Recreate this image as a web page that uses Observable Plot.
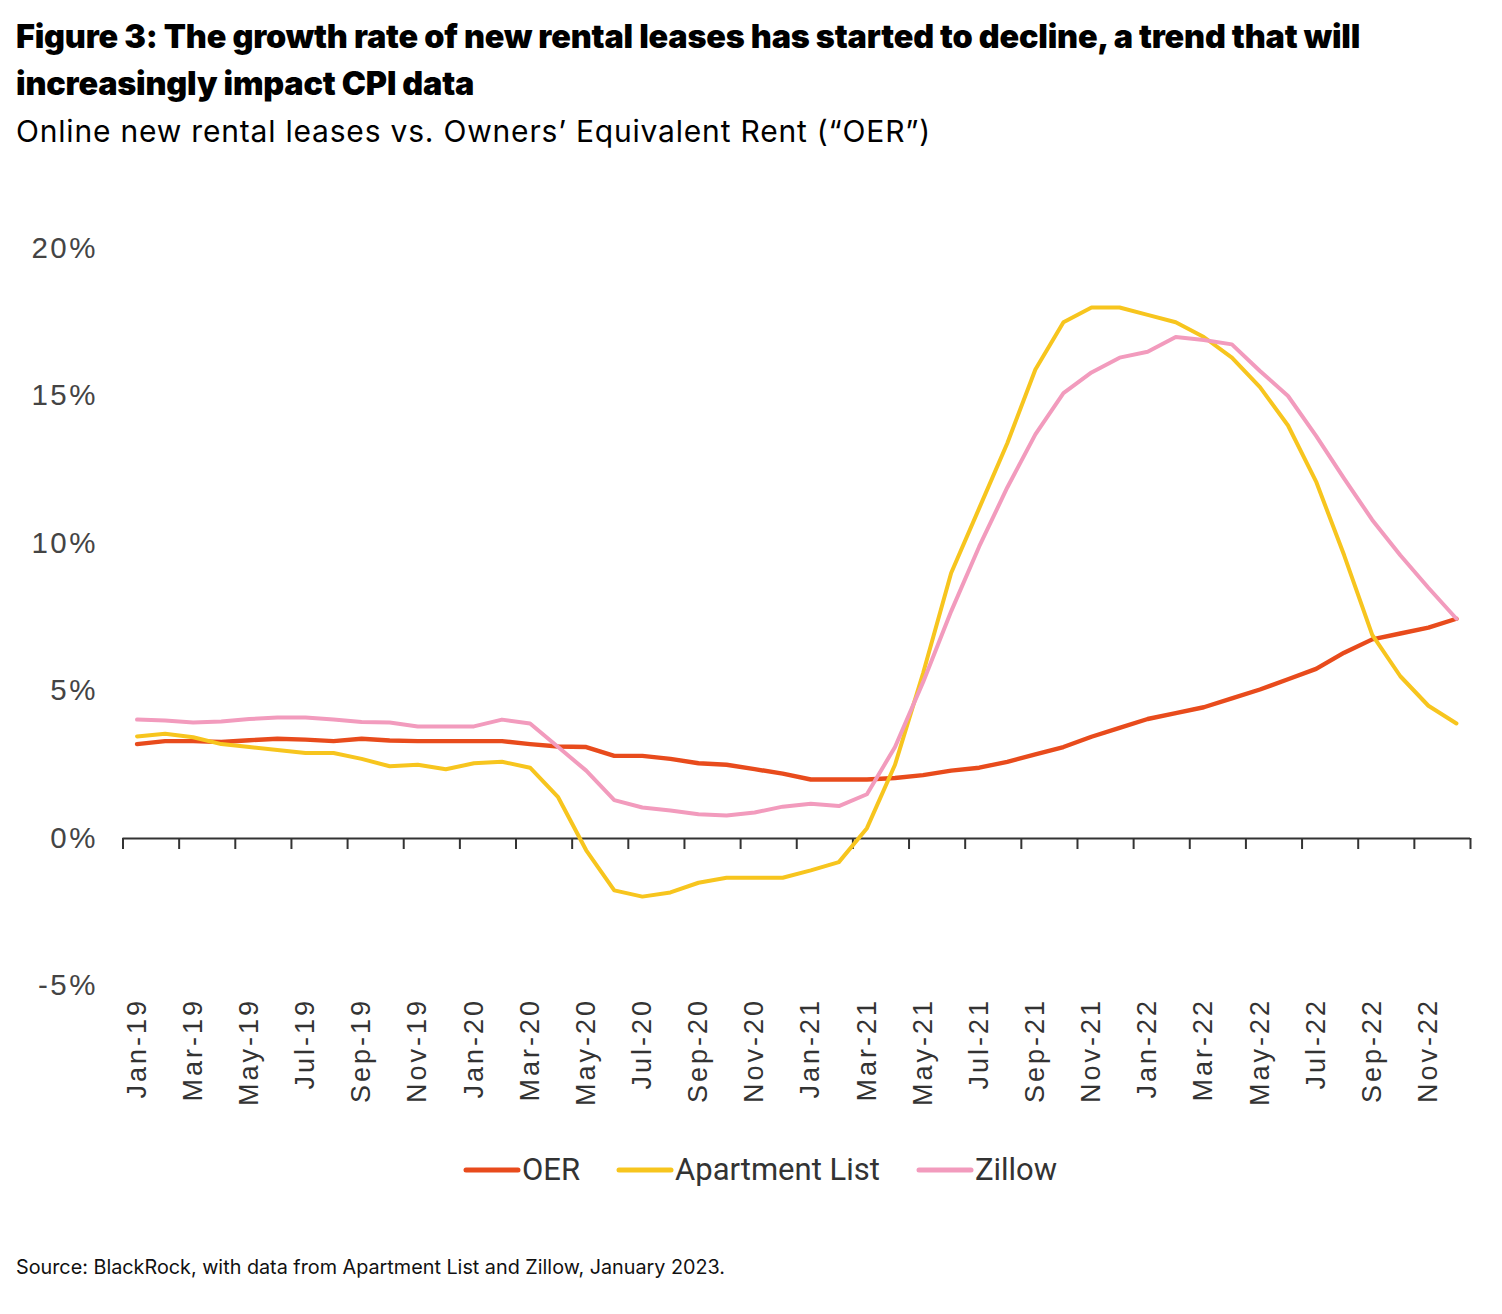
<!DOCTYPE html>
<html>
<head>
<meta charset="utf-8">
<script src="https://cdn.jsdelivr.net/npm/d3@7"></script>
<script src="https://cdn.jsdelivr.net/npm/@observablehq/plot@0.6"></script>
<style>
  html, body { margin: 0; padding: 0; background: #fff; }
  #page { position: relative; width: 1502px; height: 1314px; overflow: hidden; }
  #title { position: absolute; left: 16px; top: 13px; font-family: Inter, "Noto Sans", sans-serif; font-weight: 900; font-size: 32.4px; line-height: 47px; color: #000; letter-spacing: -0.2px; white-space: nowrap; }
  #subtitle { position: absolute; left: 16px; top: 113px; font-family: Inter, "Noto Sans", sans-serif; font-weight: 400; font-size: 30px; letter-spacing: 0.8px; color: #000; white-space: nowrap; }
  #chart { position: absolute; left: 0; top: 170px; }
  .rentchart g[aria-label="x-axis tick label"] text { letter-spacing: 3px; }
  .rentchart g[aria-label="y-axis tick label"] text { letter-spacing: 2.5px; }
  #legend { position: absolute; left: 9px; width: 1502px; top: 1151px; display: flex; justify-content: center; font-family: Roboto, "Noto Sans", sans-serif; font-size: 31px; color: #333; }
  .item { display: flex; align-items: center; margin: 0 18px; }
  .item svg { margin-right: 1px; }
  #source { position: absolute; left: 16px; top: 1255px; font-family: Inter, "Noto Sans", sans-serif; font-size: 19.8px; color: #111; white-space: nowrap; }
</style>
</head>
<body>
<div id="page">
  <div id="title">Figure 3: The growth rate of new rental leases has started to decline, a trend that will<br>increasingly impact CPI data</div>
  <div id="subtitle">Online new rental leases vs. Owners’ Equivalent Rent (“OER”)</div>
  <div id="chart"></div>
  <div id="legend"></div>
  <div id="source">Source: BlackRock, with data from Apartment List and Zillow, January 2023.</div>
</div>
<script>
const months = ["Jan-19","Feb-19","Mar-19","Apr-19","May-19","Jun-19","Jul-19","Aug-19","Sep-19","Oct-19","Nov-19","Dec-19",
  "Jan-20","Feb-20","Mar-20","Apr-20","May-20","Jun-20","Jul-20","Aug-20","Sep-20","Oct-20","Nov-20","Dec-20",
  "Jan-21","Feb-21","Mar-21","Apr-21","May-21","Jun-21","Jul-21","Aug-21","Sep-21","Oct-21","Nov-21","Dec-21",
  "Jan-22","Feb-22","Mar-22","Apr-22","May-22","Jun-22","Jul-22","Aug-22","Sep-22","Oct-22","Nov-22","Dec-22"];

const seriesNames = ["OER", "Apartment List", "Zillow"];
const seriesColors = ["#e84b1c", "#f7c51e", "#f29bbd"];

const oer = [3.2, 3.3, 3.3, 3.27, 3.33, 3.38, 3.35, 3.3, 3.38, 3.32, 3.3, 3.3,
  3.3, 3.3, 3.2, 3.12, 3.1, 2.8, 2.8, 2.7, 2.55, 2.5, 2.35, 2.2,
  2.0, 2.0, 2.0, 2.05, 2.15, 2.3, 2.4, 2.6, 2.85, 3.1, 3.45, 3.75,
  4.05, 4.25, 4.45, 4.75, 5.05, 5.4, 5.75, 6.3, 6.75, 6.95, 7.15, 7.45];

const apartmentList = [3.46, 3.55, 3.43, 3.2, 3.1, 3.0, 2.9, 2.9, 2.7, 2.45, 2.5, 2.35,
  2.55, 2.6, 2.4, 1.4, -0.4, -1.76, -1.97, -1.83, -1.5, -1.33, -1.33, -1.33,
  -1.08, -0.8, 0.35, 2.5, 5.6, 9.0, 11.2, 13.4, 15.9, 17.5, 18.0, 18.0,
  17.75, 17.5, 17.0, 16.3, 15.3, 14.0, 12.1, 9.6, 6.9, 5.5, 4.5, 3.9];

const zillow = [4.03, 4.0, 3.93, 3.97, 4.05, 4.1, 4.1, 4.03, 3.95, 3.93, 3.8, 3.8,
  3.8, 4.03, 3.9, 3.1, 2.3, 1.3, 1.05, 0.95, 0.82, 0.78, 0.88, 1.08,
  1.18, 1.1, 1.5, 3.1, 5.3, 7.7, 9.9, 11.9, 13.7, 15.1, 15.8, 16.3,
  16.5, 17.0, 16.9, 16.75, 15.85, 15.0, 13.65, 12.2, 10.8, 9.6, 8.5, 7.45];

const yTicks = [-5, 0, 5, 10, 15, 20];

const seriesValues = [oer, apartmentList, zillow];
const data = seriesValues.flatMap((vals, s) => vals.map((v, i) => ({i, v, series: seriesNames[s]})));
const labelIdx = months.map((m, i) => i).filter(i => i % 2 === 0);
const boundaries = d3.range(0, months.length / 2 + 1).map(k => 2 * k - 0.5);

const widths = {"OER": 4.4, "Apartment List": 4, "Zillow": 4};

const chart = Plot.plot({
  className: "rentchart",
  width: 1502,
  height: 950,
  marginLeft: 122.5,
  marginRight: 32,
  marginTop: 78,
  marginBottom: 134.5,
  style: {fontFamily: "'Liberation Sans', Arial, sans-serif", background: "transparent"},
  x: {domain: [-0.5, months.length - 0.5]},
  y: {domain: [-5, 20]},
  color: {domain: seriesNames, range: seriesColors},
  marks: [
    Plot.axisY({ticks: yTicks, tickFormat: d => d + "%", tickSize: 0, tickPadding: 25, fontSize: 29.5, fill: "#444", label: null}),
    Plot.axisX({ticks: labelIdx, tickFormat: i => months[i], tickSize: 0, tickPadding: 12, tickRotate: -90, fontSize: 27, fill: "#333", label: null}),
    Plot.ruleY([0], {stroke: "#333", strokeWidth: 2}),
    Plot.ruleX(boundaries, {x: d => d, y1: 0, y2: 0, insetBottom: -11, stroke: "#333", strokeWidth: 2}),
    ...seriesNames.map(name => Plot.line(data.filter(d => d.series === name), {
      x: "i", y: "v", stroke: "series", strokeWidth: widths[name], strokeLinejoin: "round", strokeLinecap: "round"
    }))
  ]
});
document.getElementById("chart").appendChild(chart);

const legend = document.getElementById("legend");
seriesNames.forEach((name, s) => {
  const item = document.createElement("div");
  item.className = "item";
  item.innerHTML = `<svg width="58" height="10"><line x1="3" y1="5" x2="55" y2="5" stroke="${seriesColors[s]}" stroke-width="5" stroke-linecap="round"/></svg><span>${name}</span>`;
  legend.appendChild(item);
});
</script>
</body>
</html>
